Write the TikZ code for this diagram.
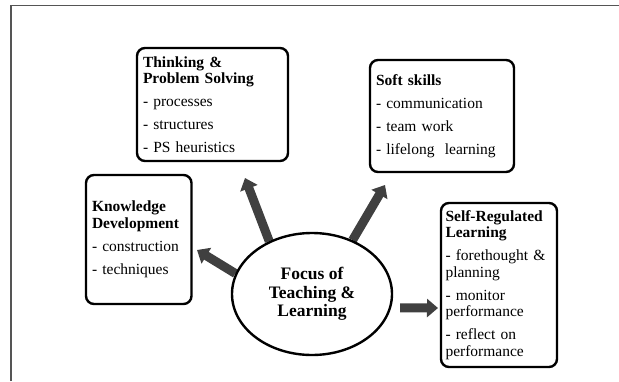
\documentclass[tikz,border=0pt]{standalone}
\usepackage{fontspec}
\setmainfont{Liberation Serif}
\usetikzlibrary{calc,positioning,arrows.meta,shapes.geometric,backgrounds}
\definecolor{arrowgray}{RGB}{64,64,64}
\definecolor{framegray}{RGB}{85,85,85}

\begin{document}
\begin{tikzpicture}[x=1pt,y=-1pt,
box/.style={draw,line width=2.4pt,rounded corners=8pt,align=left,inner xsep=6pt,inner ysep=0pt,font=\fontsize{15.5}{16.5}\selectfont},
blockarrow/.style={arrowgray,line width=9pt,-{Triangle[length=11pt,width=18pt]}}]
\useasboundingbox (0,0) rectangle (619,381);
\draw[framegray,line width=1.3pt](11,381)--(11,5.5)--(619,5.5);
% boxes
\node[box,text width=139pt,minimum height=113pt](think)at(212.5,104.5){\textbf{Thinking \&}\\\textbf{Problem Solving}\\[6.5pt]- processes\\[6.5pt]- structures\\[6.5pt]- PS heuristics};
\node[box,text width=132pt,minimum height=112pt](soft)at(442,116){\textbf{Soft skills}\\[6.5pt]- communication\\[6.5pt]- team work\\[6.5pt]- lifelong\ \ learning};
\node[box,text width=93.5pt,minimum height=129pt](know)at(138.75,239.5){\textbf{Knowledge}\\\textbf{Development}\\[6.5pt]- construction\\[6.5pt]- techniques};
\node[box,text width=107pt,inner xsep=4.5pt,minimum height=164pt](srl)at(499,285){\textbf{Self-Regulated}\\\textbf{Learning}\\[6.5pt]- forethought \&\\planning\\[6.5pt]- monitor\\performance\\[6.5pt]- reflect on\\performance};
\node[ellipse,draw,line width=2.4pt,fill=white,minimum width=160pt,minimum height=122pt,align=center,font=\bfseries\fontsize{17.5}{18.5}\selectfont](focus)at(312,294){Focus of\\Teaching \&\\Learning};
% arrows
\begin{scope}[on background layer]
\coordinate(knowTip)at(197,250);
\coordinate(thinkTip)at(245,178);
\coordinate(softTip)at(385,185);
\coordinate(srlTip)at(438,308);
\draw[blockarrow](focus.165)--(knowTip);
\draw[blockarrow](focus.129)--(thinkTip);
\draw[blockarrow](focus.53)--(softTip);
\draw[blockarrow,shorten <=9pt](focus.-10)--(srlTip);
\end{scope}
\end{tikzpicture}
\end{document}
